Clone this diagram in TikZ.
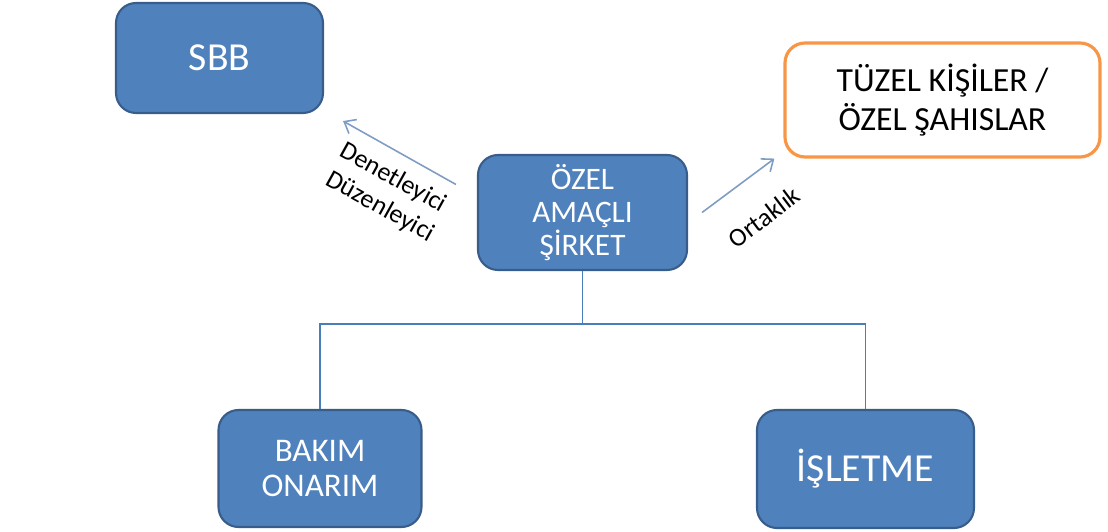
\documentclass[tikz,border=0pt]{standalone}
\usepackage{fontspec}
\setmainfont{Carlito}
\usetikzlibrary{arrows.meta}

\definecolor{boxblue}{HTML}{4F81BD}
\definecolor{boxedge}{HTML}{385D8A}
\definecolor{linkblue}{HTML}{4A7EBB}
\definecolor{relgray}{HTML}{7F9CC4}
\definecolor{partnerorange}{HTML}{F79646}

\tikzset{
  unit/.style={draw=boxedge, line width=0.6pt, fill=boxblue, rounded corners=2mm,
    text=white, align=center, inner sep=0pt, font=\fontsize{8.9}{9.4}\selectfont},
  midunit/.style={unit, font=\fontsize{9.4}{10}\selectfont},
  bigunit/.style={unit, font=\fontsize{11.3}{12}\selectfont},
  partner/.style={draw=partnerorange, line width=0.9pt, fill=white, rounded corners=2mm,
    align=center, inner sep=0pt, font=\fontsize{9.6}{11}\selectfont},
  branch/.style={draw=linkblue, line width=0.45pt},
  relation/.style={draw=relgray, line width=0.45pt, -{Straight Barb[length=1mm,width=1.6mm]}},
  rellabel/.style={font=\fontsize{7.4}{8}\selectfont, inner sep=0pt}
}

\begin{document}
\begin{tikzpicture}
      \useasboundingbox (0,0) rectangle (11.08,-5.32);

      \node[bigunit, minimum width=2.07cm, minimum height=1.10cm] (sbb) at (2.195,-0.58) {SBB};
      \node[unit, minimum width=2.09cm, minimum height=1.15cm] (oas) at (5.825,-2.125) {ÖZEL\\AMAÇLI\\ŞİRKET};
      \node[partner, minimum width=3.15cm, minimum height=1.14cm] (tuzel) at (9.425,-1.0) {TÜZEL KİŞİLER /\\ÖZEL ŞAHISLAR};
      \node[midunit, minimum width=2.03cm, minimum height=1.17cm] (bakim) at (3.20,-4.685) {BAKIM\\ONARIM};
      \node[bigunit, minimum width=2.17cm, minimum height=1.18cm] (isletme) at (8.655,-4.69) {İŞLETME};

      \coordinate (split) at (5.825,-3.24);
      \draw[branch] (oas.south) -- (split);
      \draw[branch] (split) -| (bakim.north);
      \draw[branch] (split) -| (isletme.north);

      \draw[relation] ([shift={(-0.21,0.28)}]oas.west) -- ([shift={(0.19,-0.07)}]sbb.south east);
      \draw[relation] ([shift={(0.14,0)}]oas.east) -- ([shift={(-0.09,0)}]tuzel.south west);

      \node[rellabel, rotate=-29] (denet) at (3.93,-1.78) {Denetleyici};
      \node[rellabel, rotate=-29] (duzen) at (3.80,-2.07) {Düzenleyici};
      \node[rellabel, rotate=37] (ortak) at (7.64,-2.17) {Ortaklık};
    \end{tikzpicture}
\end{document}
